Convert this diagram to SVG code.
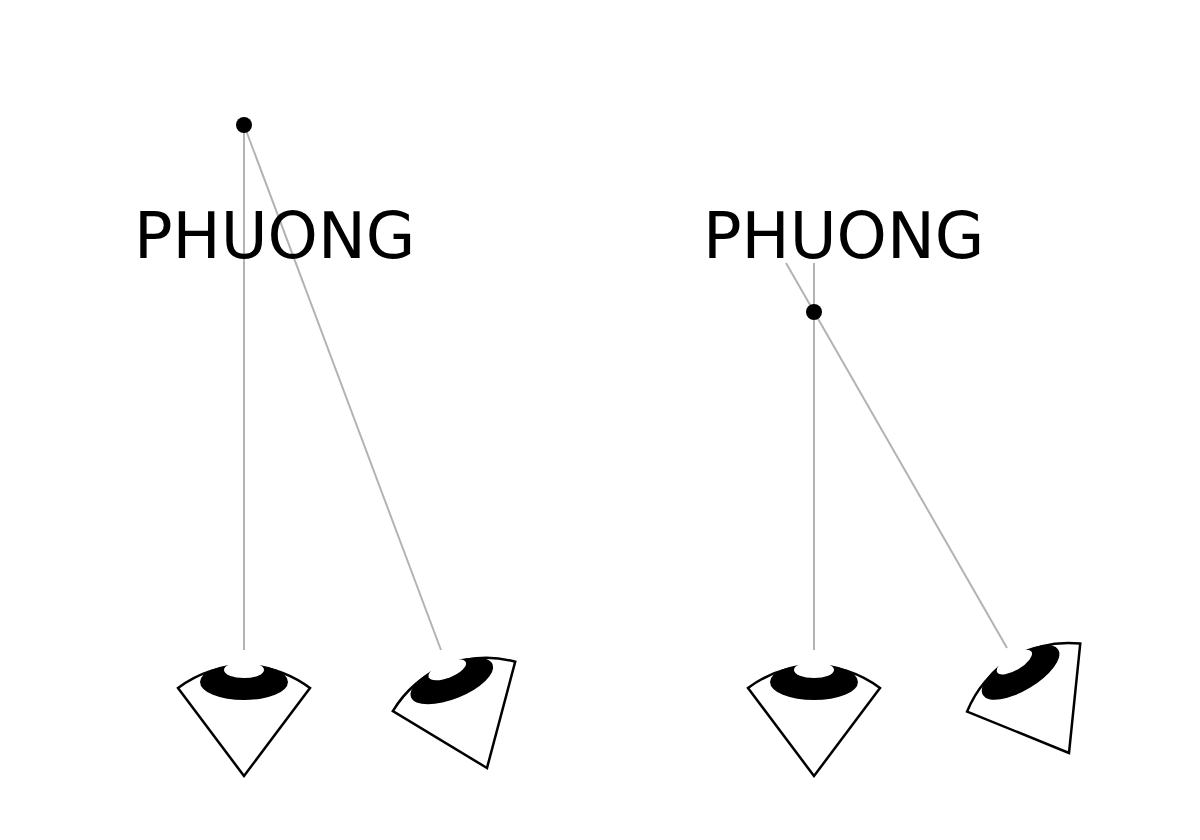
<svg xmlns="http://www.w3.org/2000/svg" width="1200" height="840" viewBox="0 0 1200 840">
<style>
.ray{stroke:#b3b3b3;stroke-width:2;fill:none}
.lbl{font-family:"DejaVu Sans",sans-serif;font-size:64px;fill:#000}
</style>
<defs>
<g id="eye">
<path d="M0,0 L-66,-88 A110,110 0 0 1 66,-88 Z" fill="#fff" stroke="#000" stroke-width="2.5" stroke-linejoin="miter"/>
<ellipse cx="0" cy="-94" rx="44" ry="18" fill="#000"/>
<ellipse cx="0" cy="-106" rx="20" ry="8" fill="#fff"/>
</g>
</defs>
<rect width="1200" height="840" fill="#fff"/>
<g id="connectors">
<line class="ray" x1="244" y1="125" x2="244" y2="650"/>
<line class="ray" x1="244" y1="125" x2="441" y2="650"/>
<line class="ray" x1="814" y1="263" x2="814" y2="650"/>
<line class="ray" x1="786" y1="263" x2="1007" y2="648"/>
</g>
<g id="label-left"><text class="lbl" x="134" y="258">PHUONG</text></g>
<g id="label-right"><text class="lbl" x="703" y="258">PHUONG</text></g>
<g id="point-left"><circle cx="244" cy="125" r="8" fill="#000"/></g>
<g id="point-right"><circle cx="814" cy="312" r="8" fill="#000"/></g>
<g id="eye1"><use href="#eye" transform="translate(244,776)"/></g>
<g id="eye2"><use href="#eye" transform="translate(487,768) rotate(-22)"/></g>
<g id="eye3"><use href="#eye" transform="translate(814,776)"/></g>
<g id="eye4"><use href="#eye" transform="translate(1069,753) rotate(-31)"/></g>
</svg>
